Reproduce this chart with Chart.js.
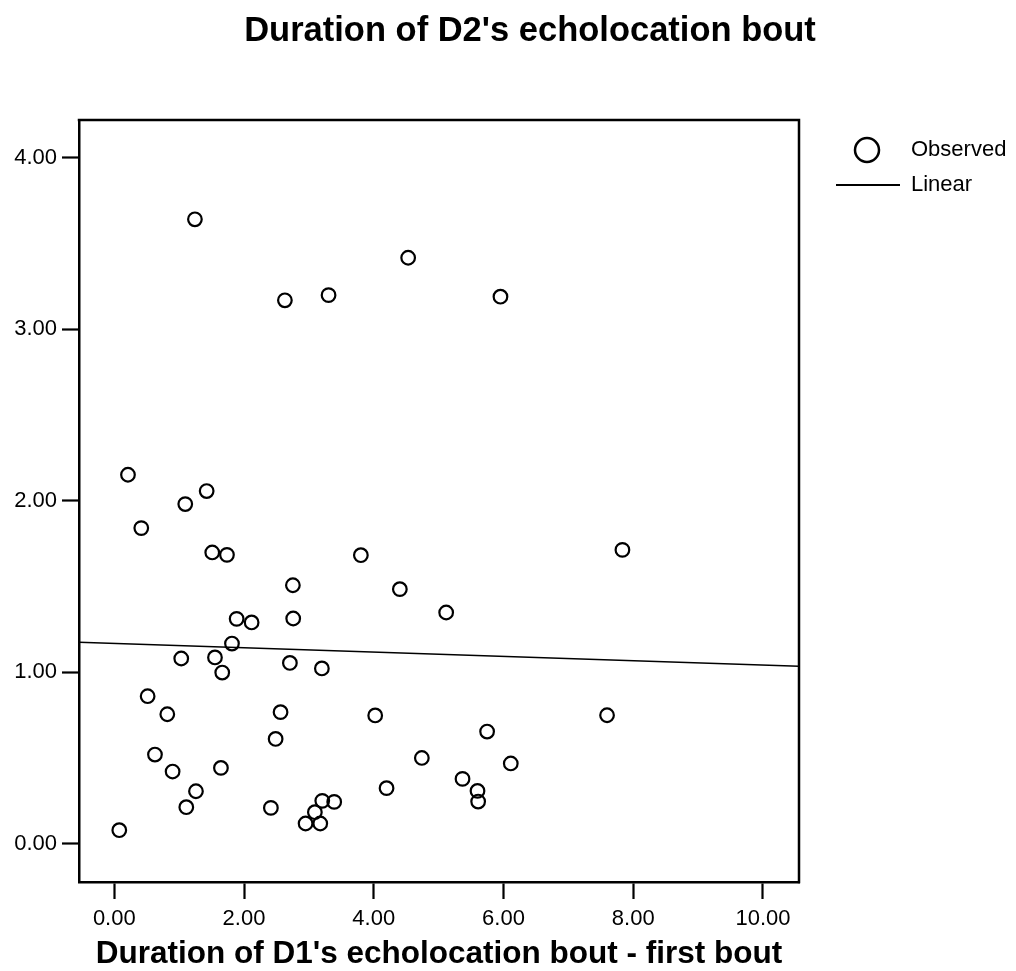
<!DOCTYPE html>
<html><head><meta charset="utf-8">
<script src="https://cdn.jsdelivr.net/npm/chart.js@4/dist/chart.umd.min.js"></script>
<style>html,body{margin:0;padding:0;background:#fff;}#wrap{width:1016px;height:971px;position:relative;}</style>
</head><body><div id="wrap"><canvas id="c" width="1016" height="971"></canvas></div>
<script>
const chartTitle = "Duration of D2's echolocation bout";
const xAxisTitle = "Duration of D1's echolocation bout - first bout";
const seriesLabels = ["Observed", "Linear"];
const xValues = [1.243, 2.630, 3.303, 4.530, 5.953, 0.211, 1.094, 1.424, 0.416, 1.510,
                 1.737, 2.753, 1.886, 2.117, 2.758, 1.814, 1.032, 1.552, 1.664, 2.707,
                 3.200, 3.801, 4.402, 5.116, 7.833, 0.514, 0.817, 0.627, 0.899, 1.644,
                 1.259, 1.110, 0.077, 2.563, 2.487, 2.414, 3.206, 3.390, 3.092, 2.949,
                 3.175, 4.022, 5.747, 4.741, 6.112, 5.368, 4.197, 5.599, 5.609, 7.596];
const yValues = [3.641, 3.169, 3.199, 3.417, 3.190, 2.152, 1.981, 2.057, 1.841, 1.699,
                 1.685, 1.508, 1.312, 1.291, 1.314, 1.168, 1.081, 1.087, 0.999, 1.055,
                 1.023, 1.683, 1.485, 1.349, 1.714, 0.861, 0.756, 0.521, 0.422, 0.443,
                 0.307, 0.214, 0.080, 0.768, 0.612, 0.210, 0.251, 0.245, 0.185, 0.119,
                 0.119, 0.749, 0.655, 0.501, 0.469, 0.379, 0.325, 0.309, 0.247, 0.750];
const xTicks = [0, 2, 4, 6, 8, 10];
const yTicks = [0, 1, 2, 3, 4];
const xRange = [-0.544, 10.555];
const yRange = [-0.222, 4.22];
const fitIntercept = 1.169;
const fitSlope = -0.0126;

const FONT = '"Liberation Sans", Arial, Helvetica, sans-serif';
const observed = xValues.map((x, i) => ({x: x, y: yValues[i]}));
const fitLine = xRange.map(x => ({x: x, y: fitIntercept + fitSlope * x}));

const decorPlugin = {
  id: 'decor',
  afterDraw(chart) {
    const ctx = chart.ctx, a = chart.chartArea;
    ctx.save();
    ctx.strokeStyle = '#000'; ctx.lineWidth = 2.5;
    ctx.beginPath();
    ctx.moveTo(a.left - 1.25, a.top); ctx.lineTo(a.right, a.top); ctx.lineTo(a.right, a.bottom + 1.25);
    ctx.stroke();
    ctx.fillStyle = '#000';
    ctx.font = 'bold 34.5px ' + FONT;
    ctx.textAlign = 'center'; ctx.textBaseline = 'alphabetic';
    ctx.fillText(chartTitle, 530, 41);
    const lx = a.right + 68, ly = 150;
    ctx.lineWidth = 2.5;
    ctx.beginPath(); ctx.arc(lx, ly, 12, 0, Math.PI * 2); ctx.stroke();
    ctx.lineWidth = 2;
    ctx.beginPath(); ctx.moveTo(a.right + 37, ly + 35); ctx.lineTo(a.right + 101, ly + 35); ctx.stroke();
    ctx.font = '22px ' + FONT; ctx.textAlign = 'left'; ctx.textBaseline = 'middle';
    ctx.fillText(chart.data.datasets[0].label, a.right + 112, ly);
    ctx.fillText(chart.data.datasets[1].label, a.right + 112, ly + 35);
    ctx.restore();
  }
};

new Chart(document.getElementById('c'), {
  type: 'scatter',
  data: {
    datasets: [
      {label: seriesLabels[0], data: observed, pointStyle: 'circle', pointRadius: 6.8, pointHoverRadius: 6.8,
       borderColor: '#000', backgroundColor: 'rgba(0,0,0,0)', pointBorderWidth: 2.2, borderWidth: 2.2},
      {label: seriesLabels[1], data: fitLine, showLine: true, pointRadius: 0, borderColor: '#000', borderWidth: 1.6, fill: false}
    ]
  },
  options: {
    responsive: false, animation: false, devicePixelRatio: 1,
    layout: {padding: {left: 0, top: 120, right: 217, bottom: 0}},
    plugins: {legend: {display: false}, title: {display: false}, tooltip: {enabled: false}},
    scales: {
      x: {
        type: 'linear', position: 'bottom', min: xRange[0], max: xRange[1],
        afterBuildTicks: s => { s.ticks = xTicks.map(v => ({value: v})); },
        afterFit: s => { s.height = 89; },
        ticks: {font: {size: 22, family: FONT}, color: '#000', padding: 7, maxRotation: 0, autoSkip: false,
                callback: v => Number(v).toFixed(2)},
        grid: {display: true, drawOnChartArea: false, drawTicks: true, tickLength: 17, tickWidth: 2.2, tickColor: '#000'},
        border: {display: true, color: '#000', width: 2.5},
        title: {display: true, text: xAxisTitle, color: '#000', font: {size: 31.5, weight: 'bold', family: FONT, lineHeight: 1.0},
                padding: {top: 0, bottom: 1}}
      },
      y: {
        type: 'linear', position: 'left', min: yRange[0], max: yRange[1],
        afterBuildTicks: s => { s.ticks = yTicks.map(v => ({value: v})); },
        afterFit: s => { s.width = 79; },
        ticks: {font: {size: 22, family: FONT}, color: '#000', padding: 5, autoSkip: false,
                callback: v => Number(v).toFixed(2)},
        grid: {display: true, drawOnChartArea: false, drawTicks: true, tickLength: 17, tickWidth: 2.2, tickColor: '#000'},
        border: {display: true, color: '#000', width: 2.5}
      }
    }
  },
  plugins: [decorPlugin]
});
</script></body></html>
